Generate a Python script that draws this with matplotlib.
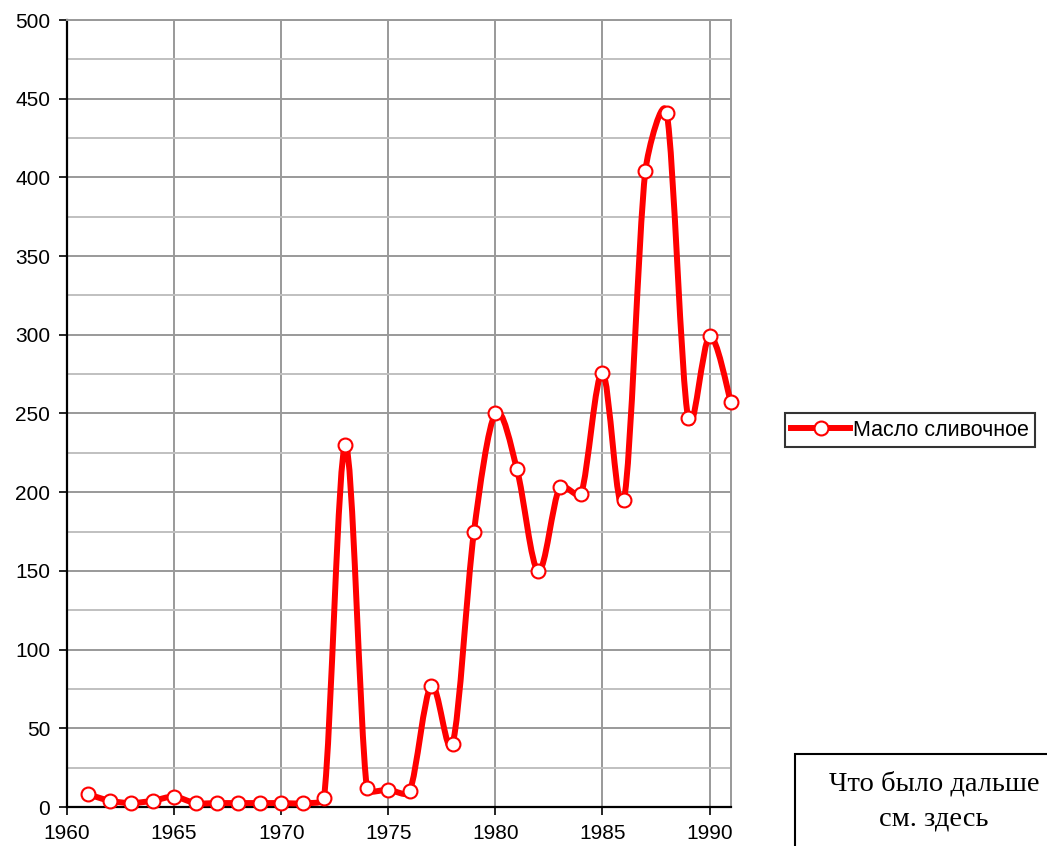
import matplotlib
matplotlib.use("Agg")
import matplotlib.pyplot as plt
import numpy as np
from matplotlib.path import Path
from matplotlib.patches import PathPatch, Rectangle
from matplotlib.lines import Line2D

years = list(range(1961, 1992))
values = [8, 4, 2.5, 4, 6.5, 2.5, 2.5, 2.5, 2.5, 2.5, 2.5, 6,
          230, 12, 11, 10, 77, 40, 175, 250, 215, 150, 203, 199,
          276, 195, 404, 441, 247, 299, 257]
series_name = "Масло сливочное"
x_ticks = [1960, 1965, 1970, 1975, 1980, 1985, 1990]
y_ticks = [0, 50, 100, 150, 200, 250, 300, 350, 400, 450, 500]

plt.rcParams['font.family'] = ['Liberation Sans', 'DejaVu Sans']

fig = plt.figure(figsize=(10.47, 8.46), dpi=100)
ax = fig.add_axes([67/1047, 39/846, (731-67)/1047, (807-20)/846])

ax.set_xlim(1960, 1991)
ax.set_ylim(0, 500)
ax.set_xticks(x_ticks)
ax.set_yticks(y_ticks)
ax.set_yticks(np.arange(25, 500, 50), minor=True)
ax.tick_params(axis='y', which='minor', length=0)
ax.tick_params(axis='both', which='major', direction='out', length=6, width=1.2,
               labelsize=15, pad=6)
ax.grid(True, which='major', axis='both', color='#999999', linewidth=1.4)
ax.grid(True, which='minor', axis='y', color='#c0c0c0', linewidth=1.4)
ax.set_axisbelow(True)
for s in ['top', 'right']:
    ax.spines[s].set_color('#999999')
    ax.spines[s].set_linewidth(1.4)
for s in ['left', 'bottom']:
    ax.spines[s].set_color('black')
    ax.spines[s].set_linewidth(1.6)

# Smoothed line through the data points (Bezier with limited arms, like Excel smoothing)
x = np.array(years, dtype=float)
y = np.array(values, dtype=float)
n = len(x)
sx = (731 - 67) / 31.0   # pixels per year
sy = (807 - 20) / 500.0  # pixels per unit
P = np.column_stack([x * sx, y * sy])


def limit(v, maxlen):
    l = np.hypot(*v)
    return v * (maxlen / l) if l > maxlen and l > 0 else v


verts = [(x[0], y[0])]
codes = [Path.MOVETO]
frac = 0.35
for i in range(n - 1):
    a = max(i - 1, 0)
    b = min(i + 2, n - 1)
    L = np.hypot(*(P[i+1] - P[i]))
    arm1 = limit((P[i+1] - P[a]) / 6.0, frac * L)
    arm2 = limit((P[b] - P[i]) / 6.0, frac * L)
    c1 = P[i] + arm1
    c2 = P[i+1] - arm2
    verts += [(c1[0] / sx, c1[1] / sy), (c2[0] / sx, c2[1] / sy), (x[i+1], y[i+1])]
    codes += [Path.CURVE4, Path.CURVE4, Path.CURVE4]
ax.add_patch(PathPatch(Path(verts, codes), facecolor='none', edgecolor='#ff0000',
                       linewidth=4.3, capstyle='round', joinstyle='round', zorder=3, clip_on=False))
ax.plot(years, values, linestyle='none', marker='o', markersize=10,
        markerfacecolor='white', markeredgecolor='#ff0000', markeredgewidth=1.5,
        zorder=4, clip_on=False)

handle = Line2D([], [], color='#ff0000', linewidth=4.3, marker='o', markersize=10,
                markerfacecolor='white', markeredgecolor='#ff0000', markeredgewidth=1.5)
leg = fig.legend([handle], [series_name], loc='center left',
                 bbox_to_anchor=(785/1047, (846-430)/846), frameon=True, fancybox=False,
                 edgecolor='black', fontsize=15.5, handlelength=2.7, handletextpad=0.15,
                 borderpad=0.3, borderaxespad=0)
leg.get_frame().set_linewidth(1.5)

fig.patches.append(Rectangle((795/1047, -0.05), 0.3, 0.05 + (846-754)/846,
                             transform=fig.transFigure, facecolor='white',
                             edgecolor='black', linewidth=1.5, zorder=1))
fig.text(934/1047, (846-801)/846, "Что было дальше\nсм. здесь", ha='center', va='center',
         fontsize=20.5, family=['Liberation Serif', 'DejaVu Serif'], linespacing=1.5, zorder=2)

fig.savefig("out.png", dpi=100)
